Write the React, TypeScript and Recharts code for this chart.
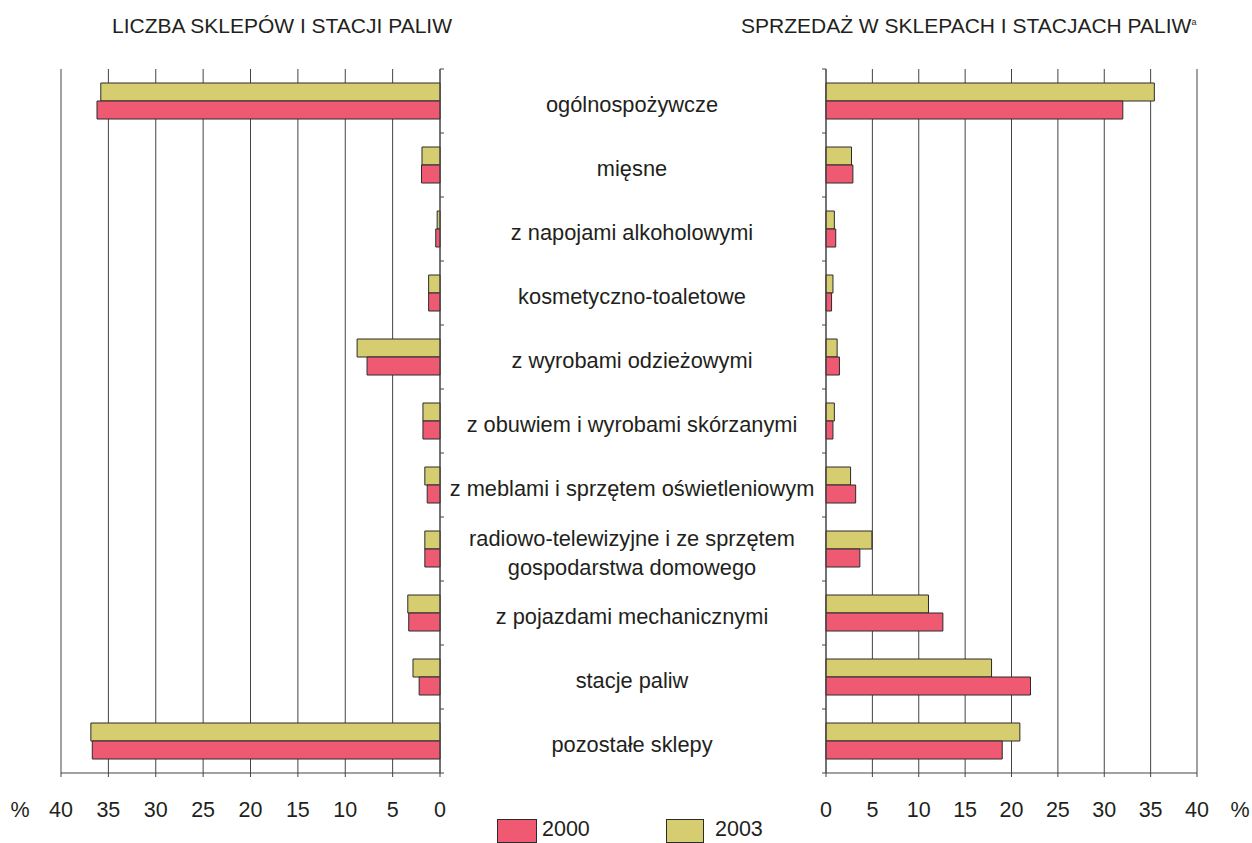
import React from 'react';
import { BarChart, Bar, XAxis, YAxis, CartesianGrid } from 'recharts';

const CATEGORIES = [
    'ogólnospożywcze',
    'mięsne',
    'z napojami alkoholowymi',
    'kosmetyczno-toaletowe',
    'z wyrobami odzieżowymi',
    'z obuwiem i wyrobami skórzanymi',
    'z meblami i sprzętem oświetleniowym',
    'radiowo-telewizyjne i ze sprzętem\ngospodarstwa domowego',
    'z pojazdami mechanicznymi',
    'stacje paliw',
    'pozostałe sklepy',
];

// liczba sklepów i stacji paliw, %
const SHOPS_2000 = [36.2, 1.95, 0.45, 1.2, 7.7, 1.8, 1.35, 1.6, 3.3, 2.2, 36.7];
const SHOPS_2003 = [35.8, 1.9, 0.3, 1.2, 8.75, 1.8, 1.6, 1.6, 3.4, 2.85, 36.85];

// sprzedaż w sklepach i stacjach paliw, %
const SALES_2000 = [32.0, 2.9, 1.05, 0.6, 1.45, 0.75, 3.2, 3.65, 12.6, 22.05, 19.0];
const SALES_2003 = [35.4, 2.75, 0.9, 0.75, 1.2, 0.9, 2.65, 4.95, 11.05, 17.85, 20.9];

const X_TICKS = [0, 5, 10, 15, 20, 25, 30, 35, 40];
const YEARS = ['2000', '2003'];

const RED = '#EF5A72';
const OLIVE = '#D5CD70';
const EDGE = '#2b2b2b';
const GRID = '#444';
const TEXT = '#231f20';
const FONT = '"Liberation Sans", Arial, sans-serif';

const CHART_H = 830;
const TOP = 69;
const BOTTOM = 773;
const ROW_H = (BOTTOM - TOP) / CATEGORIES.length;

const shopsData = CATEGORIES.map((name, i) => ({
    name,
    y2000: SHOPS_2000[i],
    y2003: SHOPS_2003[i],
}));
const salesData = CATEGORIES.map((name, i) => ({
    name,
    y2000: SALES_2000[i],
    y2003: SALES_2003[i],
}));

const XTick = (props: any) => {
    const { x, payload, side } = props;
    return (
        <g>
            <text
                x={x}
                y={817}
                textAnchor="middle"
                fontSize={21.5}
                fontFamily={FONT}
                fill={TEXT}
            >
                {payload.value}
            </text>
            {payload.value === 40 && (
                <text
                    x={side === 'left' ? x - 41 : x + 43}
                    y={817}
                    textAnchor="middle"
                    fontSize={21.5}
                    fontFamily={FONT}
                    fill={TEXT}
                >
                    %
                </text>
            )}
        </g>
    );
};

// boundary ticks between rows (left chart, axis on the right)
const LeftYTick = (props: any) => {
    const { y, index } = props;
    const top = y - ROW_H / 2;
    return (
        <g>
            <line x1={440} x2={444} y1={top} y2={top} stroke={GRID} />
            {index === CATEGORIES.length - 1 && (
                <line x1={440} x2={444} y1={y + ROW_H / 2} y2={y + ROW_H / 2} stroke={GRID} />
            )}
        </g>
    );
};

// right chart: category labels in the middle + boundary ticks
const RightYTick = (props: any) => {
    const { y, index, payload } = props;
    const top = y - ROW_H / 2;
    const lines = String(payload.value).split('\n');
    return (
        <g>
            <line x1={382} x2={386} y1={top} y2={top} stroke={GRID} />
            {index === CATEGORIES.length - 1 && (
                <line x1={382} x2={386} y1={y + ROW_H / 2} y2={y + ROW_H / 2} stroke={GRID} />
            )}
            <text
                x={192}
                y={lines.length > 1 ? y - 3 : y + 11}
                textAnchor="middle"
                fontSize={21.8}
                fontFamily={FONT}
                fill={TEXT}
            >
                {lines.map((l, i) => (
                    <tspan key={i} x={192} dy={i === 0 ? 0 : 29}>
                        {l}
                    </tspan>
                ))}
            </text>
        </g>
    );
};

const bars = () => [
    <Bar
        key="y2003"
        dataKey="y2003"
        fill={OLIVE}
        stroke={EDGE}
        strokeWidth={1}
        barSize={18}
        isAnimationActive={false}
    />,
    <Bar
        key="y2000"
        dataKey="y2000"
        fill={RED}
        stroke={EDGE}
        strokeWidth={1}
        barSize={18}
        isAnimationActive={false}
    />,
];

export default function App() {
    const titleStyle: React.CSSProperties = {
        position: 'absolute',
        top: 14,
        fontSize: 21,
        fontFamily: FONT,
        color: TEXT,
        whiteSpace: 'nowrap',
    };
    const legendText: React.CSSProperties = {
        position: 'absolute',
        top: 817,
        fontSize: 21.5,
        fontFamily: FONT,
        color: TEXT,
    };
    return (
        <div
            style={{
                position: 'absolute',
                left: 0,
                top: 0,
                width: 1252,
                height: 843,
                background: '#fff',
                overflow: 'hidden',
            }}
        >
            <div style={{ ...titleStyle, left: 112 }}>LICZBA SKLEPÓW I STACJI PALIW</div>
            <div style={{ ...titleStyle, left: 741 }}>
                SPRZEDAŻ W SKLEPACH I STACJACH PALIW
                <sup style={{ fontSize: 9 }}>a</sup>
            </div>

            <div style={{ position: 'absolute', left: 0, top: 0 }}>
                <BarChart
                    width={470}
                    height={CHART_H}
                    layout="vertical"
                    data={shopsData}
                    barGap={0}
                    margin={{ top: TOP, right: 10, bottom: 7, left: 61 }}
                >
                    <CartesianGrid horizontal={false} stroke={GRID} strokeWidth={1} />
                    <XAxis
                        type="number"
                        domain={[0, 40]}
                        ticks={X_TICKS}
                        reversed
                        height={50}
                        tickSize={4}
                        stroke={GRID}
                        tick={<XTick side="left" />}
                        interval={0}
                    />
                    <YAxis
                        type="category"
                        dataKey="name"
                        orientation="right"
                        width={20}
                        stroke={GRID}
                        tickLine={false}
                        tick={<LeftYTick />}
                        interval={0}
                    />
                    {bars()}
                </BarChart>
            </div>

            <div style={{ position: 'absolute', left: 440, top: 0 }}>
                <BarChart
                    width={812}
                    height={CHART_H}
                    layout="vertical"
                    data={salesData}
                    barGap={0}
                    margin={{ top: TOP, right: 55, bottom: 7, left: 0 }}
                >
                    <CartesianGrid horizontal={false} stroke={GRID} strokeWidth={1} />
                    <XAxis
                        type="number"
                        domain={[0, 40]}
                        ticks={X_TICKS}
                        height={50}
                        tickSize={4}
                        stroke={GRID}
                        tick={<XTick side="right" />}
                        interval={0}
                    />
                    <YAxis
                        type="category"
                        dataKey="name"
                        width={386}
                        stroke={GRID}
                        tickLine={false}
                        tick={<RightYTick />}
                        interval={0}
                    />
                    {bars()}
                </BarChart>
            </div>

            {/* legend */}
            <div
                style={{
                    position: 'absolute',
                    left: 497,
                    top: 819,
                    width: 38,
                    height: 22,
                    background: RED,
                    border: `1px solid ${EDGE}`,
                }}
            />
            <div style={{ ...legendText, left: 542 }}>{YEARS[0]}</div>
            <div
                style={{
                    position: 'absolute',
                    left: 666,
                    top: 819,
                    width: 36,
                    height: 22,
                    background: OLIVE,
                    border: `1px solid ${EDGE}`,
                }}
            />
            <div style={{ ...legendText, left: 715 }}>{YEARS[1]}</div>
        </div>
    );
}
